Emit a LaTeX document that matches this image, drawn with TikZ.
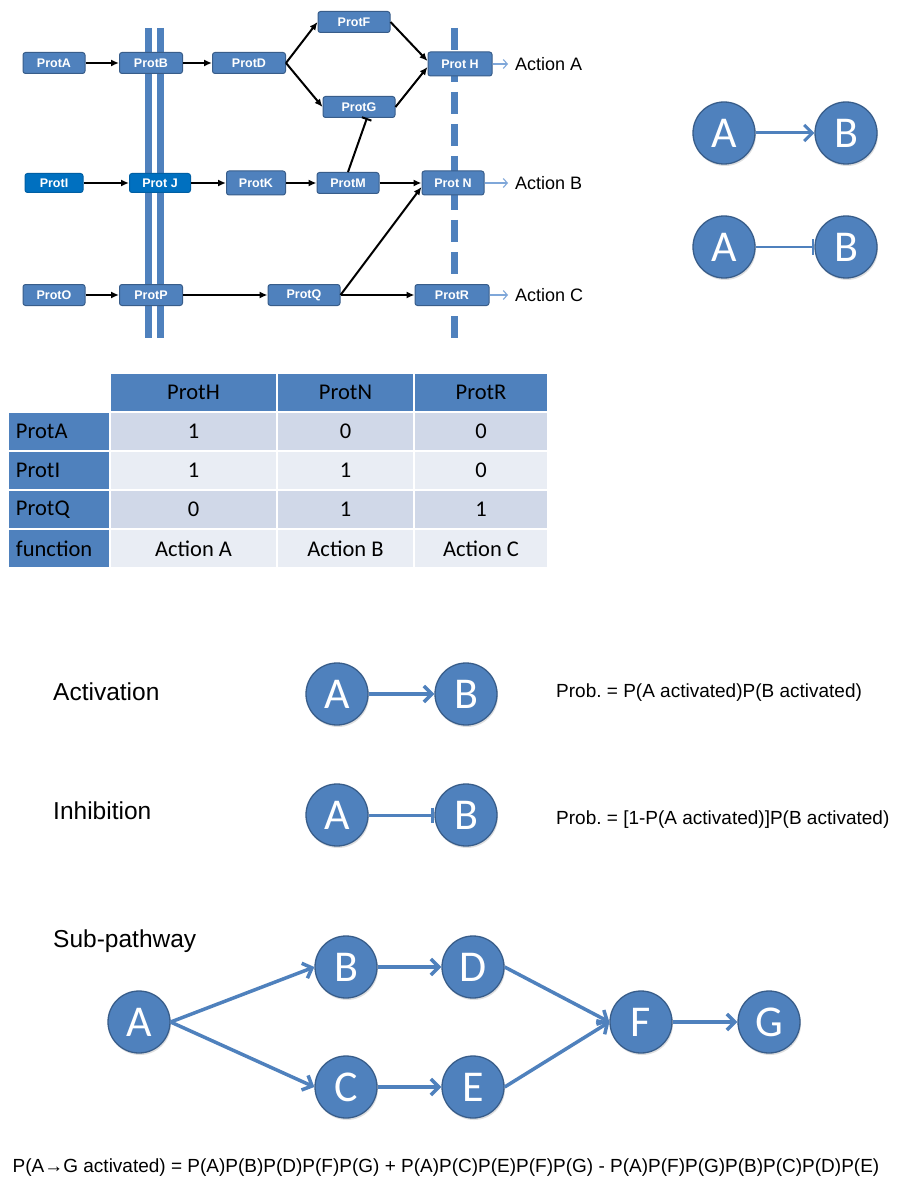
\documentclass[tikz,border=0pt]{standalone}
\usepackage{fontspec}
\setmainfont{Liberation Sans}
\newfontfamily\calfont{Carlito}
\frenchspacing
\usetikzlibrary{arrows.meta,shadows}
\definecolor{nodeblue}{HTML}{4F81BD}
\definecolor{nodeedge}{HTML}{385D8A}
\definecolor{brightblue}{HTML}{0070C0}
\definecolor{lightarrow}{HTML}{7FA7D9}
\definecolor{rowdark}{HTML}{D0D8E8}
\definecolor{rowlight}{HTML}{E9EDF4}
\tikzset{
  prot/.style={draw=nodeedge, fill=nodeblue, rounded corners=2.5pt, line width=1pt,
    text=white, font=\bfseries\fontsize{12.5}{13}\selectfont, minimum height=21pt, inner sep=0pt},
  protlit/.style={prot, fill=brightblue, draw=brightblue!85!black, minimum height=19pt},
  act/.style={-{Latex[length=8pt,width=7pt]}, line width=2pt},
  inh/.style={-{Bar[width=10pt]}, line width=2pt},
  outarrow/.style={-{Straight Barb[length=4pt,width=9pt]}, lightarrow, line width=1.1pt, shorten >=7pt},
  actlabel/.style={font=\fontsize{18}{20}\selectfont, anchor=west, inner sep=0pt},
  ball/.style={circle, draw=nodeedge, fill=nodeblue, line width=1.3pt, minimum size=62pt,
    inner sep=0pt, text=white, font=\calfont\fontsize{44}{44}\selectfont,
    drop shadow={opacity=0.25, shadow xshift=1pt, shadow yshift=-2pt}},
  bluearrow/.style={nodeblue, line width=3.5pt, -{Straight Barb[length=8pt,width=16pt]}},
  bluebar/.style={nodeblue, line width=3pt, -{Bar[width=15pt]}},
  heading/.style={font=\fontsize{24.5}{26}\selectfont, anchor=west, inner sep=0pt},
  formula/.style={font=\fontsize{19}{21}\selectfont, inner sep=0pt},
  cell/.style={draw=white, line width=1.5pt, minimum height=39pt, inner sep=0pt,
    font=\calfont\fontsize{22.5}{24}\selectfont},
  rowhead/.style={cell, fill=nodeblue, minimum width=102pt, text width=86pt, align=left}
}
\begin{document}
\begin{tikzpicture}[x=1pt,y=-1pt]
\path[fill=white, use as bounding box] (0,0) rectangle (897,1198);
\draw[nodeblue, line width=7pt] (148,28) -- (148,338) (160.5,28) -- (160.5,338);
\draw[nodeblue, line width=7pt, dash pattern=on 22pt off 10pt] (454,28) -- (454,338);

\node[prot, minimum width=62pt] (ProtA) at (54,63) {ProtA};
\node[prot, minimum width=63pt] (ProtB) at (151,63) {ProtB};
\node[prot, minimum width=73pt] (ProtD) at (249,63) {ProtD};
\node[prot, minimum width=72pt] (ProtF) at (354,22) {ProtF};
\node[prot, minimum width=72pt] (ProtG) at (359,107) {ProtG};
\node[prot, minimum width=64pt, minimum height=24pt] (ProtH) at (460,64) {Prot H};
\node[protlit, minimum width=58pt] (ProtI) at (54,183) {ProtI};
\node[protlit, minimum width=61pt] (ProtJ) at (160,183) {Prot J};
\node[prot, minimum width=59pt, minimum height=24pt] (ProtK) at (256,183) {ProtK};
\node[prot, minimum width=62pt] (ProtM) at (348,183) {ProtM};
\node[prot, minimum width=62pt, minimum height=24pt] (ProtN) at (453,183) {Prot N};
\node[prot, minimum width=62pt] (ProtO) at (54,295) {ProtO};
\node[prot, minimum width=63pt] (ProtP) at (151,295) {ProtP};
\node[prot, minimum width=72pt] (ProtQ) at (304,295) {ProtQ};
\node[prot, minimum width=74pt] (ProtR) at (452,295) {ProtR};

\draw[act] (ProtA) -- (ProtB);
\draw[act] (ProtB) -- (ProtD);
\draw[act] (ProtD.east) -- (ProtF.west);
\draw[act] (ProtD.east) -- (ProtG.west);
\draw[act] (ProtF.east) -- ([yshift=3pt]ProtH.west);
\draw[act] (ProtG.east) -- ([yshift=-3pt]ProtH.west);
\draw[act] (ProtI) -- (ProtJ);
\draw[act] (ProtJ) -- (ProtK);
\draw[act] (ProtK) -- (ProtM);
\draw[act] (ProtM) -- (ProtN);
\draw[inh] (ProtM.north) -- ([xshift=8pt]ProtG.south);
\draw[act] (ProtO) -- (ProtP);
\draw[act] (ProtP) -- (ProtQ);
\draw[act] (ProtQ) -- (ProtR);
\draw[act] (ProtQ.east) -- ([yshift=-4pt]ProtN.west);

\node[actlabel] (ActA) at (515,64) {Action A};
\node[actlabel] (ActB) at (515,183) {Action B};
\node[actlabel] (ActC) at (515,295) {Action C};
\draw[outarrow] (ProtH.east) -- (ActA.west);
\draw[outarrow] (ProtN.east) -- (ActB.west);
\draw[outarrow] (ProtR.east) -- (ActC.west);

\node[ball] (keyA1) at (724,133) {A};
\node[ball] (keyB1) at (846,133) {B};
\node[ball] (keyA2) at (724,247) {A};
\node[ball] (keyB2) at (846,247) {B};
\draw[bluearrow, line width=3pt] (keyA1) -- (keyB1);
\draw[bluebar, line width=2.5pt] (keyA2) -- (keyB2);

\node[cell, fill=nodeblue, minimum width=167pt] (hd1) at (193.5,392.5) {ProtH};
\node[cell, fill=nodeblue, minimum width=137pt] (hd2) at (345.5,392.5) {ProtN};
\node[cell, fill=nodeblue, minimum width=134pt] (hd3) at (481,392.5) {ProtR};
\foreach \nm/\a/\b/\c/\shade [count=\i] in {ProtA/1/0/0/rowdark, ProtI/1/1/0/rowlight,
    ProtQ/0/1/1/rowdark, function/Action A/Action B/Action C/rowlight}{
  \node[rowhead] (rh\i) at (59,{392.5+39*\i}) {\nm};
  \node[cell, fill=\shade, minimum width=167pt] (c\i-1) at (193.5,{392.5+39*\i}) {\a};
  \node[cell, fill=\shade, minimum width=137pt] (c\i-2) at (345.5,{392.5+39*\i}) {\b};
  \node[cell, fill=\shade, minimum width=134pt] (c\i-3) at (481,{392.5+39*\i}) {\c};
}

\node[heading] (actlbl) at (53,692) {Activation};
\node[heading] (inhlbl) at (53,811) {Inhibition};
\node[ball] (actA) at (337,694) {A};
\node[ball] (actB) at (466,694) {B};
\node[ball] (inhA) at (337,815) {A};
\node[ball] (inhB) at (466,815) {B};
\draw[bluearrow] (actA) -- (actB);
\draw[bluebar] (inhA) -- (inhB);
\node[formula, anchor=west] (actprob) at (556,693) {Prob. = P(A activated)P(B activated)};
\node[formula, anchor=west] (inhprob) at (556,820) {Prob. = [1-P(A activated)]P(B activated)};

\node[heading] (sublbl) at (53,941) {Sub-pathway};
\node[ball] (subA) at (139,1022) {A};
\node[ball] (subB) at (346,967) {B};
\node[ball] (subC) at (346,1087) {C};
\node[ball] (subD) at (473,967) {D};
\node[ball] (subE) at (473,1087) {E};
\node[ball] (subF) at (641,1022) {F};
\node[ball] (subG) at (769,1022) {G};
\draw[bluearrow] (subA.east) -- (subB.west);
\draw[bluearrow] (subA.east) -- (subC.west);
\draw[bluearrow] (subB) -- (subD);
\draw[bluearrow] (subC) -- (subE);
\draw[bluearrow] (subD.east) -- (subF.west);
\draw[bluearrow] (subE.east) -- (subF.west);
\draw[bluearrow] (subF) -- (subG);
\node[formula] (total) at (446,1168) {P(A→G activated) = P(A)P(B)P(D)P(F)P(G) + P(A)P(C)P(E)P(F)P(G) - P(A)P(F)P(G)P(B)P(C)P(D)P(E)};
\end{tikzpicture}
\end{document}
